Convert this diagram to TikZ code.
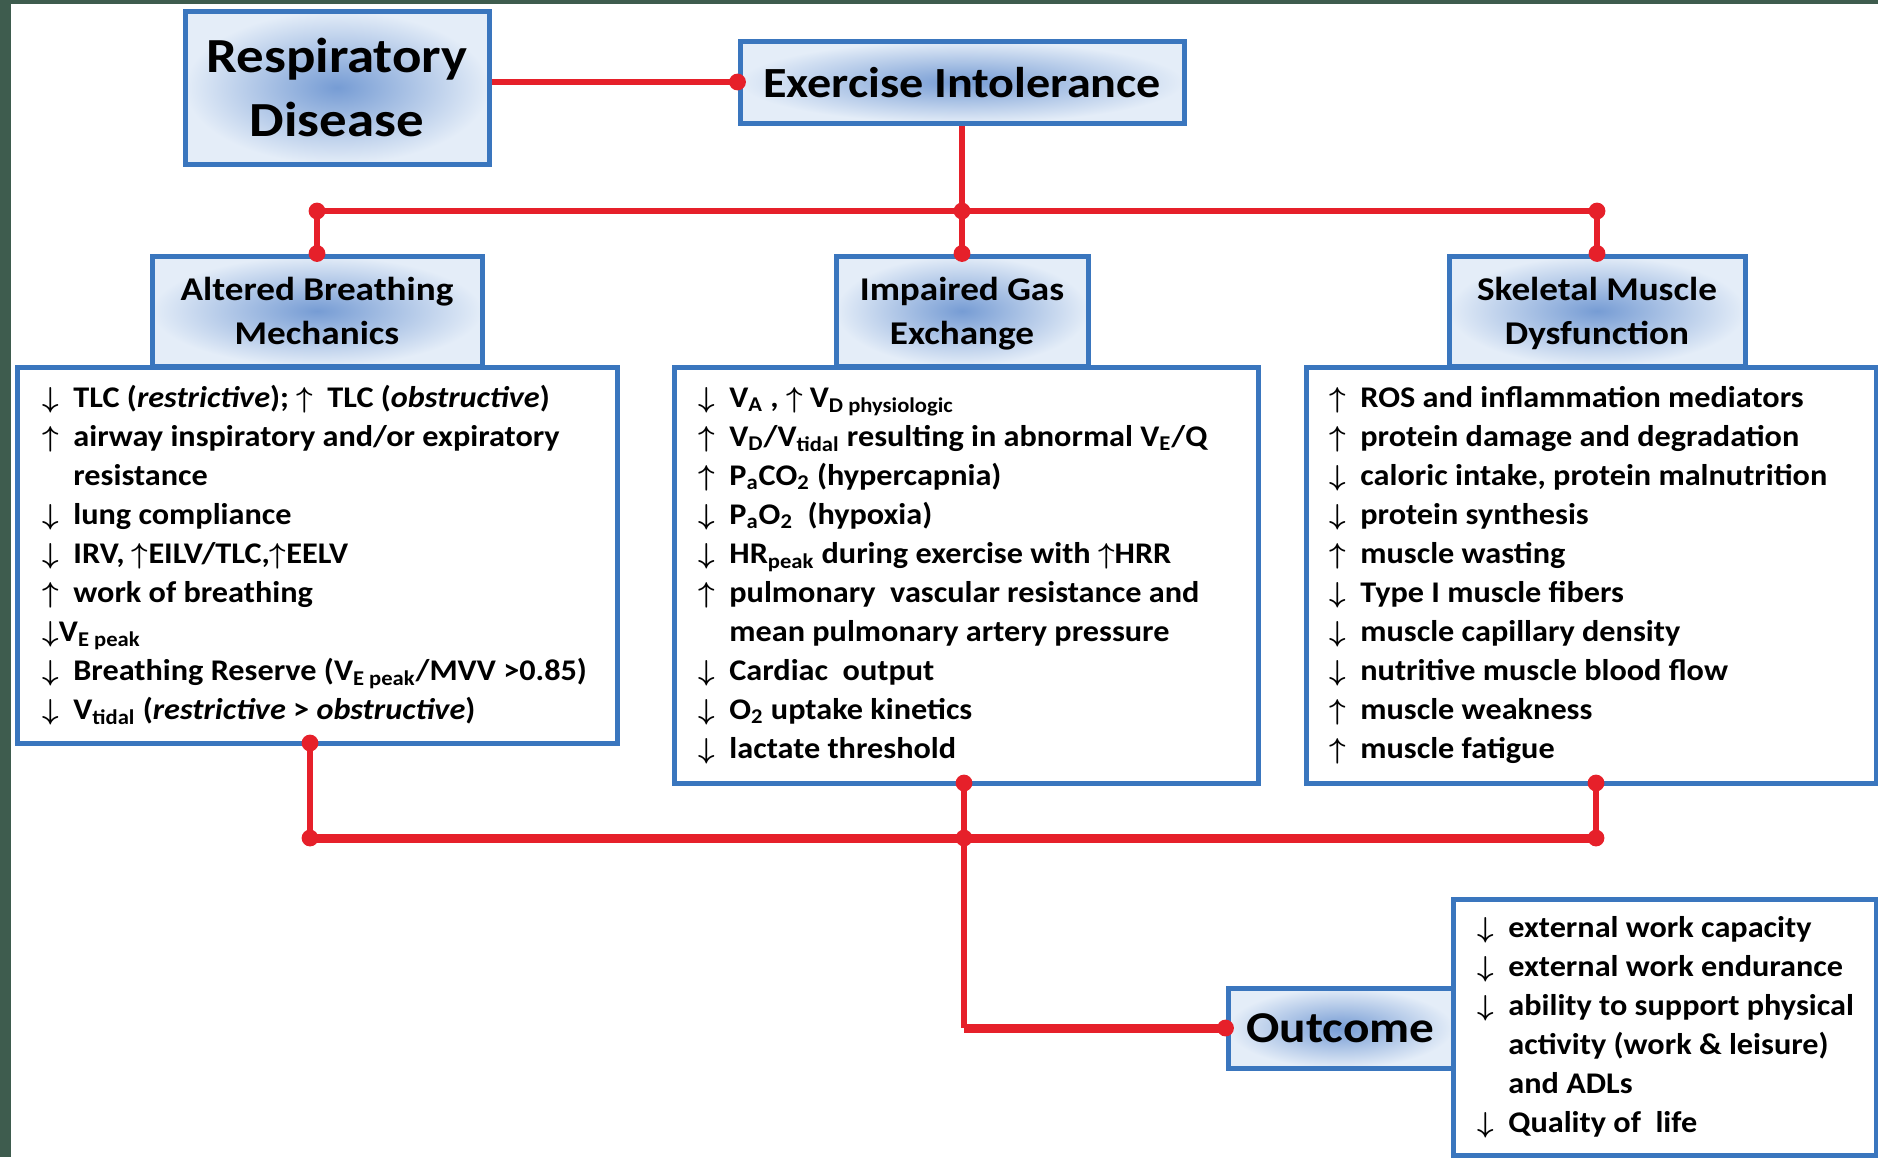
\documentclass[tikz,border=0pt]{standalone}
\usepackage{fontspec}
\setmainfont{Carlito}
\newfontfamily\widefont{Carlito}[FakeStretch=1.12]
\newfontfamily\listfont{Carlito}[FakeStretch=1.075]
\usetikzlibrary{calc}
\definecolor{framegreen}{RGB}{62,92,78}
\definecolor{boxblue}{RGB}{58,118,190}
\definecolor{linkred}{RGB}{230,32,42}
\definecolor{shadein}{RGB}{118,156,212}
\definecolor{shadeout}{RGB}{228,237,248}
% arrow markers and hanging indent for the list lines
\newcommand\upa{{\boldmath$\uparrow$}}
\newcommand\dna{{\boldmath$\downarrow$}}
\newcommand\up{\makebox[15.5pt][l]{\upa}}
\newcommand\dn{\makebox[15.5pt][l]{\dna}}
\newcommand\ind{\hspace*{15.5pt}}
\newcommand\lo[1]{\textsubscript{#1}}
\newcommand\firststrut{\rule{0pt}{13pt}}

\begin{document}
\begin{tikzpicture}[x=0.5pt,y=-0.5pt,
  hdr/.style={draw=boxblue, line width=2.5pt, inner color=shadein, outer color=shadeout,
              inner sep=0pt, align=center, text depth=0pt},
  body/.style={draw=boxblue, line width=2.5pt, fill=white, inner sep=0pt},
  listtext/.style={anchor=north west, inner sep=0pt, align=left,
              font=\listfont\fontsize{15}{19.5}\selectfont\bfseries},
  link/.style={draw=linkred, line width=3pt},
  buslink/.style={draw=linkred, line width=4.5pt},
  dotmark/.style={fill=linkred}]

\useasboundingbox (0,0) rectangle (1878,1157);
\fill[framegreen] (0,0) rectangle (1878,1157);
\fill[white] (11,4) rectangle (1878,1157);

% top level
\node[hdr, minimum width=152pt, minimum height=76.5pt,
      font=\widefont\fontsize{24.5}{31.75}\selectfont\bfseries] (resp) at (337,87.5) {Respiratory\\Disease};
\node[hdr, minimum width=222pt, minimum height=41pt,
      font=\widefont\fontsize{21.5}{26}\selectfont\bfseries] (exer) at (962,82) {Exercise Intolerance};

% detail boxes
\node[body, minimum width=300pt, minimum height=188pt] (leftB) at (317,555) {};
\node[body, minimum width=292pt, minimum height=208pt] (midB) at (966,575) {};
\node[body, minimum width=285pt, minimum height=208pt] (rightB) at (1591,575) {};
\node[body, minimum width=211.5pt, minimum height=128pt] (outB) at (1664.5,1027) {};

% category headers
\node[hdr, minimum width=165pt, minimum height=55pt,
      font=\widefont\fontsize{16.6}{22}\selectfont\bfseries] (altH) at (317,311) {Altered Breathing\\Mechanics};
\node[hdr, minimum width=126pt, minimum height=55pt,
      font=\widefont\fontsize{16.6}{22}\selectfont\bfseries] (gasH) at (962,311) {Impaired Gas\\Exchange};
\node[hdr, minimum width=148pt, minimum height=55pt,
      font=\widefont\fontsize{16.6}{22}\selectfont\bfseries] (skelH) at (1597,311) {Skeletal Muscle\\Dysfunction};
\node[hdr, minimum width=112.5pt, minimum height=40pt,
      font=\widefont\fontsize{22}{26}\selectfont\bfseries] (outc) at (1340.5,1028) {Outcome};

% list texts
\node[listtext] (leftT) at (42,381) {\firststrut\dn TLC (\textit{restrictive}); \up TLC (\textit{obstructive})\\
\up airway inspiratory and/or expiratory\\
\ind resistance\\
\dn lung compliance\\
\dn IRV, \upa EILV/TLC,\upa EELV\\
\up work of breathing\\
\dna V\lo{E peak}\\
\dn Breathing Reserve (V\lo{E peak}/MVV >0.85)\\
\dn V\lo{tidal} (\textit{restrictive} > \textit{obstructive})};

\node[listtext] (midT) at (698,381) {\firststrut\dn V\lo{A} , \upa\ V\lo{D physiologic}\\
\up V\lo{D}/V\lo{tidal} resulting in abnormal V\lo{E}/Q\\
\up P\lo{a}CO\lo{2} (hypercapnia)\\
\dn P\lo{a}O\lo{2}\ \ (hypoxia)\\
\dn HR\lo{peak} during exercise with \upa HRR\\
\up pulmonary\ \ vascular resistance and\\
\ind mean pulmonary artery pressure\\
\dn Cardiac\ \ output\\
\dn O\lo{2} uptake kinetics\\
\dn lactate threshold};

\node[listtext] (rightT) at (1329,381) {\firststrut\up ROS and inflammation mediators\\
\up protein damage and degradation\\
\dn caloric intake, protein malnutrition\\
\dn protein synthesis\\
\up muscle wasting\\
\dn Type I muscle fibers\\
\dn muscle capillary density\\
\dn nutritive muscle blood flow\\
\up muscle weakness\\
\up muscle fatigue};

\node[listtext] (outT) at (1477,911) {\firststrut\dn external work capacity\\
\dn external work endurance\\
\dn ability to support physical\\
\ind activity (work \& leisure)\\
\ind and ADLs\\
\dn Quality of\ \ life};

% junction points
\coordinate (tl) at (317,211);
\coordinate (tm) at (962,211);
\coordinate (tr) at (1597,211);
\coordinate (lb) at (310,743);
\coordinate (mb) at (964,783);
\coordinate (rb) at (1596,783);
\coordinate (bl) at (310,838);
\coordinate (bm) at (964,838);
\coordinate (br) at (1596,838);
\coordinate (oc) at (bm |- outc.west);

% connectors
\draw[link] (resp.east |- exer.west) -- (exer.west);
\draw[link] (exer.south) -- (tm);
\draw[link] (tl) -- (tr);
\draw[link] (tl) -- (altH.north);
\draw[link] (tm) -- (gasH.north);
\draw[link] (tr) -- (skelH.north);
\draw[link] (lb) -- (bl);
\draw[link] (mb) -- (bm);
\draw[link] (rb) -- (br);
\draw[buslink] (bl) -- (br);
\draw[link] (bm) -- (oc);
\draw[buslink] (oc) -- (outc.west);

% connector dots
\foreach \p in {exer.west, tl, tm, tr, altH.north, gasH.north, skelH.north,
                lb, mb, rb, bl, bm, br, outc.west}
  \fill[dotmark] (\p) circle (4.2pt);
\end{tikzpicture}
\end{document}
